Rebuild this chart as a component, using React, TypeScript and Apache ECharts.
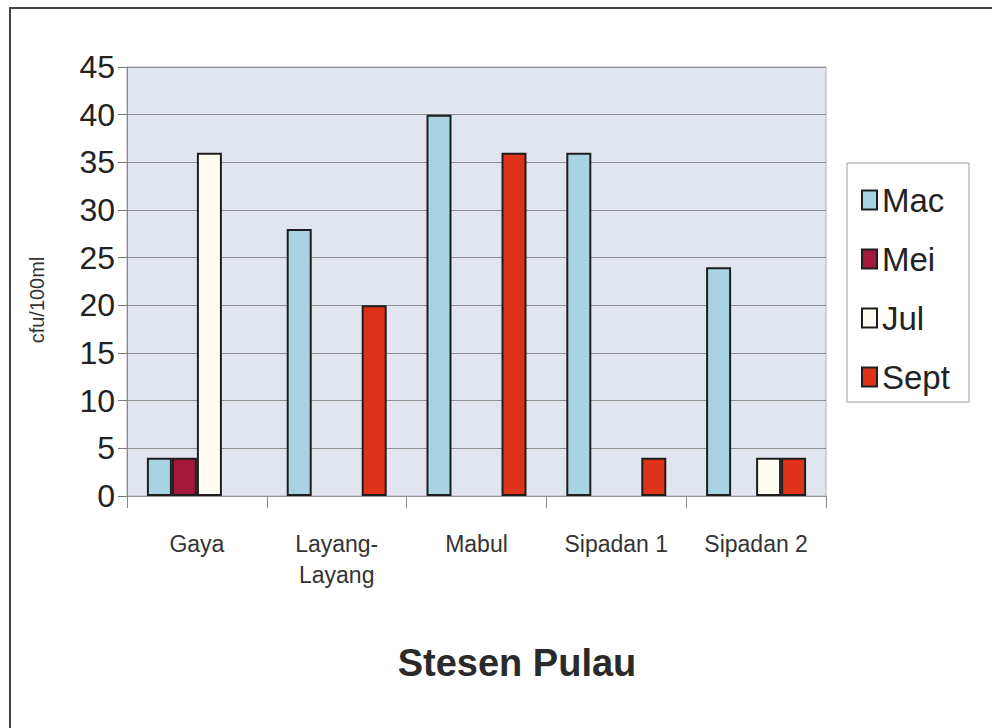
import React, { useEffect, useRef } from "react";
import * as echarts from "echarts";

const categories = ["Gaya", "Layang-\nLayang", "Mabul", "Sipadan 1", "Sipadan 2"];
const seriesNames = ["Mac", "Mei", "Jul", "Sept"];
const macValues = [4, 28, 40, 36, 24];
const meiValues = [4, null, null, null, null];
const julValues = [36, null, null, null, 4];
const septValues = [null, 20, 36, 4, 4];
const yTicks = { min: 0, max: 45, interval: 5 };
const xTitle = "Stesen Pulau";
const yTitle = "cfu/100ml";

const colors = ["#a8d3e3", "#a3183c", "#fffdf3", "#de3219"];
const FONT = "'Liberation Sans', Arial, sans-serif";

export default function App() {
  const ref = useRef<HTMLDivElement>(null);
  useEffect(() => {
    if (!ref.current) return;
    const chart = echarts.init(ref.current, undefined, { renderer: "svg" });
    const values = [macValues, meiValues, julValues, septValues];
    chart.setOption({
      animation: false,
      backgroundColor: "#ffffff",
      textStyle: { fontFamily: FONT },
      grid: {
        left: 127,
        right: 166,
        top: 67,
        bottom: 232,
        show: true,
        backgroundColor: "#e0e5ef",
        borderColor: "#b8aec0",
        borderWidth: 1,
      },
      legend: {
        orient: "vertical",
        left: 856,
        top: 178,
        itemWidth: 15,
        itemHeight: 19,
        itemGap: 25,
        icon: "rect",
        data: seriesNames,
        textStyle: { fontSize: 33, lineHeight: 34, color: "#222", fontFamily: FONT, padding: [0, 0, 0, 0] },
      },
      xAxis: {
        type: "category",
        data: categories,
        axisLine: { show: true, lineStyle: { color: "#909890", width: 1 } },
        axisTick: { show: true, length: 12, lineStyle: { color: "#888" } },
        axisLabel: {
          fontSize: 23,
          lineHeight: 31,
          color: "#333",
          margin: 32,
          interval: 0,
          fontFamily: FONT,
        },
        splitLine: { show: false },
      },
      yAxis: {
        type: "value",
        min: yTicks.min,
        max: yTicks.max,
        interval: yTicks.interval,
        axisLine: { show: true, lineStyle: { color: "#888", width: 1 } },
        axisTick: { show: true, length: 9, lineStyle: { color: "#777" } },
        axisLabel: { fontSize: 32, color: "#222", margin: 12, fontFamily: FONT },
        splitLine: { show: true, lineStyle: { color: "#8f8f8f", width: 1 } },
      },
      series: seriesNames.map((name, i) => ({
        name,
        type: "bar",
        data: values[i],
        barWidth: 25,
        barGap: "0%",
        itemStyle: { color: colors[i], borderColor: "#1e1e1e", borderWidth: 2 },
      })),
      graphic: [
        {
          type: "line",
          shape: { x1: 9, y1: 8, x2: 992, y2: 8 },
          style: { stroke: "#444", lineWidth: 2 },
        },
        {
          type: "line",
          shape: { x1: 10, y1: 8, x2: 10, y2: 728 },
          style: { stroke: "#444", lineWidth: 2 },
        },
        {
          type: "rect",
          z: -1,
          shape: { x: 847, y: 163, width: 122, height: 239 },
          style: { fill: "#ffffff", stroke: "#9a9a9a", lineWidth: 1 },
        },
        {
          type: "text",
          x: 517,
          y: 663,
          style: {
            text: xTitle,
            fontSize: 38,
            fontWeight: "bold",
            fontFamily: FONT,
            fill: "#2a2a2a",
            textAlign: "center",
            textVerticalAlign: "middle",
          },
        },
        {
          type: "text",
          x: 37,
          y: 300,
          rotation: Math.PI / 2,
          style: {
            text: yTitle,
            fontSize: 20,
            fontFamily: FONT,
            fill: "#333",
            textAlign: "center",
            textVerticalAlign: "middle",
          },
        },
      ],
    });
    return () => chart.dispose();
  }, []);
  return (
    <div
      ref={ref}
      style={{ position: "fixed", left: 0, top: 0, width: 992, height: 728 }}
    />
  );
}
